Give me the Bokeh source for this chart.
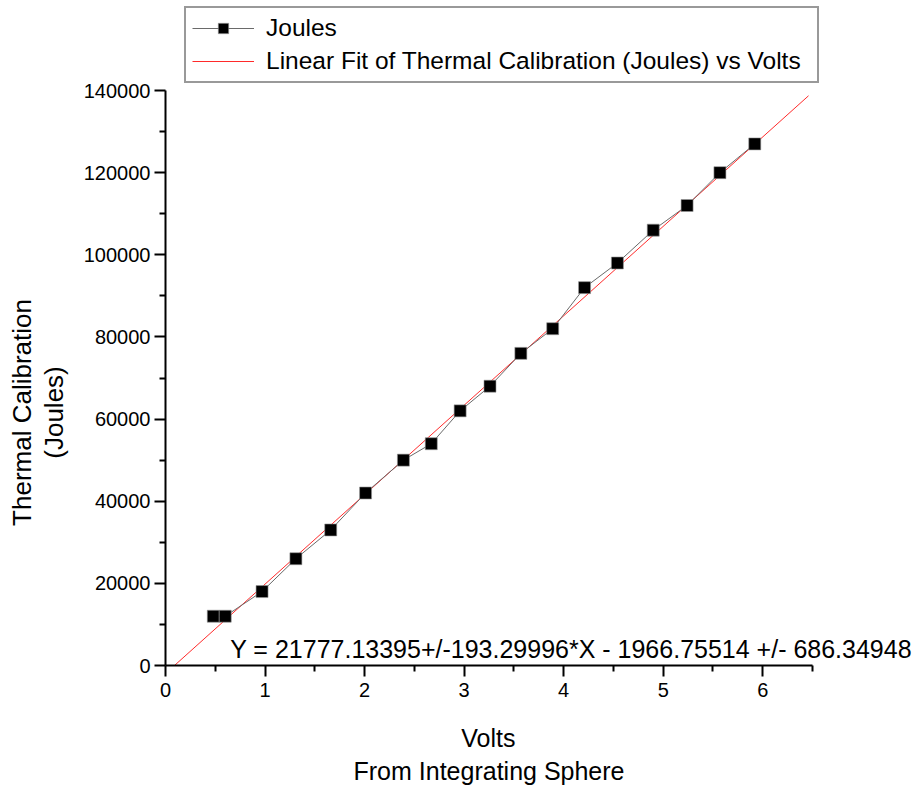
from bokeh.plotting import figure
from bokeh.models import FixedTicker, Legend, LegendItem, Label, ColumnDataSource, Title
from bokeh.embed import file_html
from bokeh.resources import INLINE

# Data
volts = [0.48, 0.60, 0.97, 1.31, 1.66, 2.01, 2.39, 2.67, 2.96, 3.26, 3.57,
         3.89, 4.21, 4.54, 4.90, 5.24, 5.57, 5.92]
joules = [12000, 12000, 18000, 26000, 33000, 42000, 50000, 54000, 62000,
          68000, 76000, 82000, 92000, 98000, 106000, 112000, 120000, 127000]

# Linear fit parameters (as printed on the chart)
slope = 21777.13395
slope_err = 193.29996
intercept = -1966.75514
intercept_err = 686.34948
fit_x_span = [0.0, 6.46]

x_ticks = [0, 1, 2, 3, 4, 5, 6]
x_minor = [0.5, 1.5, 2.5, 3.5, 4.5, 5.5, 6.5]
y_ticks = [0, 20000, 40000, 60000, 80000, 100000, 120000, 140000]
y_minor = [10000, 30000, 50000, 70000, 90000, 110000, 130000]
x_axis_bounds = (0, 6.5)
y_axis_bounds = (0, 140000)
x_label_lines = ["Volts", "From Integrating Sphere"]
y_label_lines = ["Thermal Calibration", "(Joules)"]

FONT = "Liberation Sans"

# Layout: the drawing frame covers the canvas right of / above the axes,
# so that the legend and the fit equation (outside the axes box) are not clipped.
W, H = 920, 790
LEFT, BOTTOM = 165, 125          # axes origin in canvas pixels
AX_RIGHT, AX_TOP = 812, 90       # ends of the drawn axes in canvas pixels
x_end = x_axis_bounds[1] * (W - LEFT) / (AX_RIGHT - LEFT)
y_end = y_axis_bounds[1] * (H - BOTTOM) / (H - BOTTOM - AX_TOP)
frame_h = H - BOTTOM

# approximate text widths (Arial/Liberation metrics, em units) to centre titles on drawn axes
X_TITLE_PX, Y_TITLE_PX = 25, 26
x_title_em = {"Volts": 2.223, "From Integrating Sphere": 10.838}
y_title_em = {"Thermal Calibration": 8.724, "(Joules)": 3.556}
x_center = (AX_RIGHT - LEFT) / 2     # from frame left
y_center = frame_h - 412             # from frame bottom


def spacer(size):
    return Title(text=" ", text_font_size="1px", standoff=size)


p = figure(width=W, height=H, output_backend="svg", toolbar_location=None,
           x_range=(0, x_end), y_range=(0, y_end),
           min_border_left=LEFT, min_border_right=0,
           min_border_top=0, min_border_bottom=BOTTOM)
p.outline_line_color = None
p.xgrid.visible = False
p.ygrid.visible = False
p.background_fill_color = "white"
p.border_fill_color = "white"

src = ColumnDataSource(dict(x=volts, y=joules))
fit_y = [slope * xv + intercept for xv in fit_x_span]

fit_r = p.line(fit_x_span, fit_y, line_color="#ff2a2a", line_width=1)
data_line = p.line("x", "y", source=src, line_color="#6a6a6a", line_width=1)
data_pts = p.scatter("x", "y", source=src, marker="square", size=12,
                     fill_color="black", line_color="#999999", line_width=0.6)

for ax, ticks, minor, bnds in ((p.xaxis[0], x_ticks, x_minor, x_axis_bounds),
                               (p.yaxis[0], y_ticks, y_minor, y_axis_bounds)):
    ax.ticker = FixedTicker(ticks=ticks, minor_ticks=minor)
    ax.bounds = bnds
    ax.axis_line_color = "black"
    ax.axis_line_width = 2
    ax.major_tick_line_color = "black"
    ax.major_tick_line_width = 2
    ax.minor_tick_line_color = "black"
    ax.minor_tick_line_width = 2
    ax.major_tick_in = 0
    ax.major_tick_out = 11
    ax.minor_tick_in = 0
    ax.minor_tick_out = 6
    ax.major_label_text_font = FONT
    ax.major_label_text_font_size = "20px"
    ax.major_label_text_color = "black"

p.xaxis[0].major_label_standoff = 6
p.yaxis[0].major_label_standoff = 4
p.yaxis[0].formatter.use_scientific = False

# Axis titles (two lines each), centred on the drawn axes
p.add_layout(spacer(18), "below")
for txt in x_label_lines:
    off = x_center - x_title_em[txt] * X_TITLE_PX / 2
    p.add_layout(Title(text=txt, align="left", offset=off,
                       text_font=FONT, text_font_size=f"{X_TITLE_PX}px",
                       text_font_style="normal", text_color="black", standoff=3), "below")
p.add_layout(spacer(9), "left")
for txt in reversed(y_label_lines):
    off = y_center - y_title_em[txt] * Y_TITLE_PX / 2
    p.add_layout(Title(text=txt, align="left", offset=off,
                       text_font=FONT, text_font_size=f"{Y_TITLE_PX}px",
                       text_font_style="normal", text_color="black", standoff=0), "left")

legend = Legend(items=[
    LegendItem(label="Joules", renderers=[data_line, data_pts]),
    LegendItem(label="Linear Fit of Thermal Calibration (Joules) vs Volts", renderers=[fit_r]),
], location=(19, frame_h - 83))
legend.label_text_font = FONT
legend.label_text_font_size = "24.5px"
legend.label_text_color = "black"
legend.glyph_width = 62
legend.glyph_height = 26
legend.label_height = 26
legend.label_width = 545
legend.label_standoff = 12
legend.padding = 6
legend.spacing = 5
legend.border_line_color = "#333333"
legend.border_line_width = 2
legend.background_fill_color = "white"
legend.background_fill_alpha = 1
p.add_layout(legend, "center")

eq_text = "Y = {:.5f}+/-{:.5f}*X - {:.5f} +/- {:.5f}".format(
    slope, slope_err, -intercept, intercept_err)
p.add_layout(Label(x=0.65, y=4100, text=eq_text, text_font=FONT,
                   text_font_size="25px", text_color="black",
                   text_baseline="alphabetic"))

open("out.html", "w").write(file_html(p, INLINE))
